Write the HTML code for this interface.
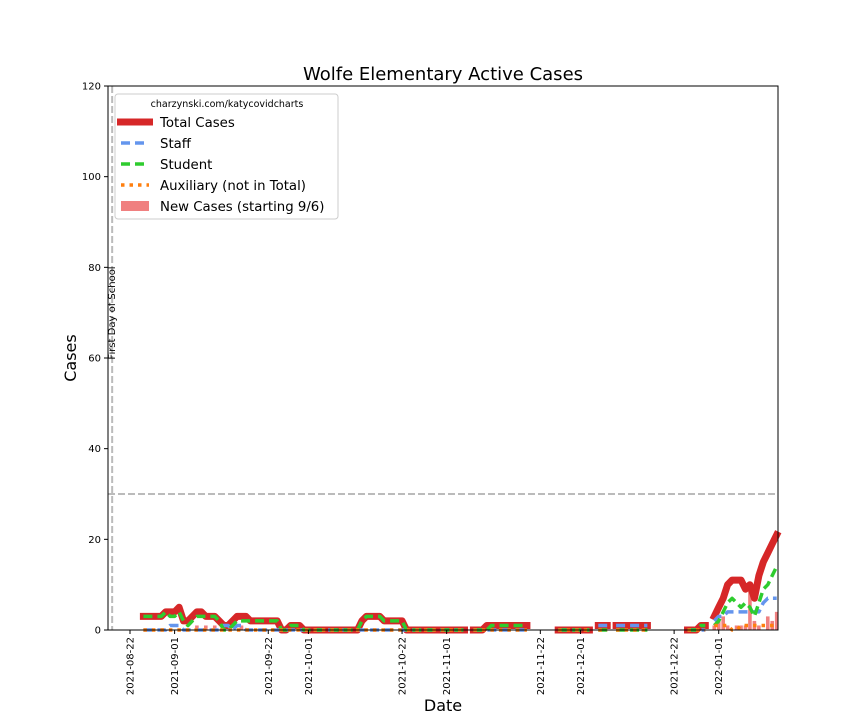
<!DOCTYPE html>
<html><head><meta charset="utf-8"><style>
body{margin:0;background:#fff;}
svg text{font-family:"DejaVu Sans","Liberation Sans",sans-serif;}
</style></head><body>
<svg id="chart" width="864" height="720" xmlns="http://www.w3.org/2000/svg">
<rect width="864" height="720" fill="#fff"/>
<text x="443" y="80" font-size="18" text-anchor="middle">Wolfe Elementary Active Cases</text>
<g id="plot"></g>
<rect x="108" y="86" width="670" height="544" fill="none" stroke="#000" stroke-width="1"/>
<text transform="translate(76,358) rotate(-90)" font-size="16" text-anchor="middle">Cases</text>
<text x="443" y="711" font-size="16" text-anchor="middle">Date</text>
<g>
<rect x="115" y="94" width="223" height="125" rx="3" fill="#fff" fill-opacity="0.85" stroke="#ccc"/>
<text x="227" y="107" font-size="9.5" text-anchor="middle">charzynski.com/katycovidcharts</text>
<line x1="117" y1="122" x2="153" y2="122" stroke="#d62728" stroke-width="7"/>
<text x="160" y="127" font-size="13.3">Total Cases</text>
<line x1="121" y1="143" x2="149" y2="143" stroke="#6495ed" stroke-width="3.5" stroke-dasharray="9,5"/>
<text x="160" y="148" font-size="13.3">Staff</text>
<line x1="121" y1="164" x2="149" y2="164" stroke="#2ecc2e" stroke-width="3.5" stroke-dasharray="9,5"/>
<text x="160" y="169" font-size="13.3">Student</text>
<line x1="121" y1="185" x2="149" y2="185" stroke="#ff7f0e" stroke-width="3.5" stroke-dasharray="3.5,5"/>
<text x="160" y="190" font-size="13.3">Auxiliary (not in Total)</text>
<rect x="121" y="201" width="28" height="10" fill="#f08080"/>
<text x="160" y="211" font-size="13.3">New Cases (starting 9/6)</text>
</g>
</svg>
<script>
const startDate = "2021-08-25";
const yTicks = [0,20,40,60,80,100,120];
const xTickLabels = ["2021-08-22","2021-09-01","2021-09-22","2021-10-01","2021-10-22","2021-11-01","2021-11-22","2021-12-01","2021-12-22","2022-01-01"];
const N = null;
const totalCases = [3,3,3,3,3, 4,4,4,5, 2,2,3, 4,4,3, 3,3, 2,1,1, 2,3,3,3, 2,2,2,2,2,2,2, 0,0, 1,1,1,
 0,0,0,0,0,0,0,0,0,0,0,0,0, 2,3,3,3,3,2, 2,2,2,2, 0,0,0,0,0,0,0,0,0,0,0,0,0,0, N, 0,0,0,
 1,1,1,1,1,1,1,1,1,1, N,N,N,N,N,N, 0,0,0,0,0,0,0,0, N, 1,1,1, N, 1,1,1,1,1,1,1,1, N,N,N,N,N,N,N,N,
 0,0,0, 1,1, N, 3,5,7,10,11,11,11,9,10,7,12,15,17,19,21];
const staffCases = [0,0,0,0,0, 0,1,1,1, 0,0,0, 0,0,0, 0,0, 0,1,1, 0,1,1,0, 0,0,0,0,0,0,0, 0,0, 0,0,0,
 0,0,0,0,0,0,0,0,0,0,0,0,0, 0,0,0,0,0,0, 0,0,0,0, 0,0,0,0,0,0,0,0,0,0,0,0,0,0, N, 0,0,0,
 0,0,0,0,0,0,0,0,0,0, N,N,N,N,N,N, 0,0,0,0,0,0,0,0, N, 1,1,1, N, 1,1,1,1,1,1,1,1, N,N,N,N,N,N,N,N,
 0,0,0, 0,0, N, 2,3,3,4,4,4,4,4,4,4,4,6,7,7,7];
const studentCases = [3,3,3,3,3, 4,3,3,4, 2,1,2, 3,3,3, 3,3, 2,0,0, 1,2,2,2, 2,2,2,2,2,2,2, 0,0, 1,1,1,
 0,0,0,0,0,0,0,0,0,0,0,0,0, 2,3,3,3,3,2, 2,2,2,2, 0,0,0,0,0,0,0,0,0,0,0,0,0,0, N, 0,0,0,
 0,1,1,1,1,1,1,1,1,1, N,N,N,N,N,N, 0,0,0,0,0,0,0,0, N, 0,0,0, N, 0,0,0,0,0,0,0,0, N,N,N,N,N,N,N,N,
 0,0,0, 1,1, N, 1,2,4,6,7,6,5,6,5,3,6,9,10,12,14];
const auxCases = [0,0,0,0,0, 0,0,0,0, 0,0,0, 0,0,0, 0,0, 0,0,0, 0,0,0,0, 0,0,0,0,0,0,0, 0,0, 0,0,0,
 0,0,0,0,0,0,0,0,0,0,0,0,0, 0,0,0,0,0,0, 0,0,0,0, 0,0,0,0,0,0,0,0,0,0,0,0,0,0, N, 0,0,0,
 0,0,0,0,0,0,0,0,0,0, N,N,N,N,N,N, 0,0,0,0,0,0,0,0, N, 0,0,0, N, 0,0,0,0,0,0,0,0, N,N,N,N,N,N,N,N,
 0,0,0, 0,0, N, 1,1,1,1,0,0,1,1,1,1,1,1,1,1,1];
const newCases = [0,0,0,0,0, 0,0,0,0, 0,0,0, 1,0,1, 0,1, 0,0,0, 0,0,1,0, 0,0,0,0,0,0,0, 0,0, 0,0,0,
 0,0,0,0,0,0,0,0,0,0,0,0,0, 0,0,0,0,0,0, 0,0,0,0, 0,0,0,0,0,0,0,0,0,0,0,0,0,0, 0, 0,0,0,
 0,0,0,0,0,0,0,0,0,0, 0,0,0,0,0,0, 0,0,0,0,0,0,0,0, 0, 0,0,0, 0, 0,0,0,0,0,0,0,0, 0,0,0,0,0,0,0,0,
 0,0,0, 0,0, 0, 1,2,3,1,0,1,1,1,9,2,1,0,3,2,4];
const schoolStart = "2021-08-18";
const thresholdLine = 30;

const NS="http://www.w3.org/2000/svg";
const plot=document.getElementById('plot');
const X0=108,X1=778,Y0=630,Y1=86;
const refDate=Date.parse("2021-08-22"), pxPerDay=4.46, refX=130;
function xScale(dateStr){return refX+(Date.parse(dateStr)-refDate)/86400000*pxPerDay;}
function xDay(i){return xScale(startDate)+i*pxPerDay;}
function yScale(v){return Y0-(v/120)*(Y0-Y1);}
function mk(tag,attrs){const e=document.createElementNS(NS,tag);for(const k in attrs)e.setAttribute(k,attrs[k]);plot.appendChild(e);return e;}

newCases.forEach((v,i)=>{ if(!v) return;
 const r=mk('rect',{x:xDay(i)-1.8,y:yScale(v),width:3.6,height:Y0-yScale(v),fill:'#f08080'});
 
 
});
const th=mk('line',{x1:X0,x2:X1,y1:yScale(thresholdLine),y2:yScale(thresholdLine),stroke:'#bbb','stroke-width':2,'stroke-dasharray':'7,3'});


const sx=xScale(schoolStart);
const sl=mk('line',{x1:sx,x2:sx,y1:Y1,y2:Y0,stroke:'#bbb','stroke-width':2,'stroke-dasharray':'7,3'});


const st=mk('text',{transform:`translate(${sx+3},313) rotate(-90)`,'font-size':10,'text-anchor':'middle'});
st.textContent='First Day of School';



function series(arr,color,w,dash,name){
 let d='',pen=false;
 arr.forEach((v,i)=>{ if(v===null){pen=false;return;}
  d+=(pen?'L':'M')+xDay(i).toFixed(1)+','+yScale(v).toFixed(1)+' '; pen=true;});
 const p=mk('path',{d:d,fill:'none',stroke:color,'stroke-width':w,'stroke-linejoin':'round','stroke-linecap':dash?'butt':'square'});
 if(dash)p.setAttribute('stroke-dasharray',dash);
 
 
}
series(totalCases,'#d62728',7,null,'total-cases-line');
series(staffCases,'#6495ed',3.5,'9,5','staff-line');
series(studentCases,'#2ecc2e',3.5,'9,5','student-line');
series(auxCases,'#ff7f0e',3.5,'3.5,5','auxiliary-line');

yTicks.forEach(t=>{const y=yScale(t);
 mk('line',{x1:X0-4,x2:X0,y1:y,y2:y,stroke:'#000'});
 const tx=mk('text',{x:X0-7,y:y+3.5,'font-size':10,'text-anchor':'end'});
 tx.textContent=t;
 
 
});
xTickLabels.forEach(l=>{const x=xScale(l);
 mk('line',{x1:x,x2:x,y1:Y0,y2:Y0+4,stroke:'#000'});
 const tx=mk('text',{transform:`translate(${x+3.5},${Y0+7}) rotate(-90)`,'font-size':10,'text-anchor':'end'});
 tx.textContent=l;
 
 
});
</script>
</body></html>
